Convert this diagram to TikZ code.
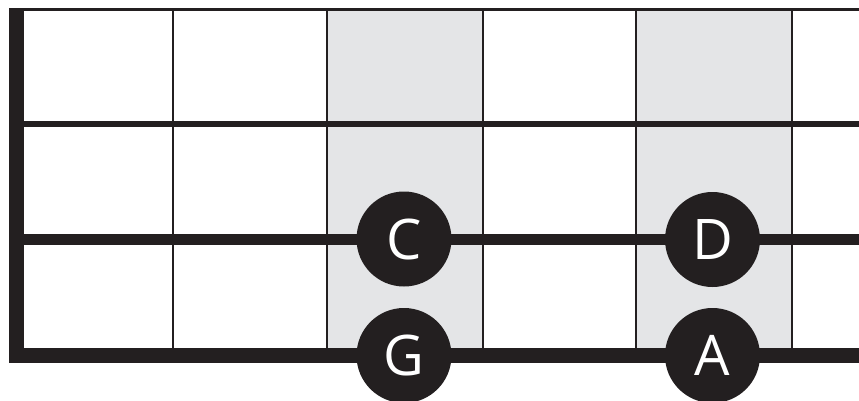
\documentclass[tikz,border=0pt]{standalone}
\usepackage{fontspec}
\setmainfont{Open Sans}
\definecolor{ink}{HTML}{231F20}
\definecolor{fretgray}{HTML}{E4E5E7}
\tikzset{
  fret/.style={draw=ink, line width=2pt},
  note/.style={circle, fill=ink, minimum size=95pt, inner sep=0pt, text=white, font=\fontsize{56}{56}\selectfont}
}
\begin{document}
\begin{tikzpicture}[x=1pt,y=-1pt]
\useasboundingbox (0,0) rectangle (859,401);
% shaded frets
\fill[fill=fretgray] (328,9.5) rectangle (481.5,355.5);
\fill[fill=fretgray] (637,9.5) rectangle (791,355.5);
% fret lines
\foreach \x in {172.5,327,482.5,636,792}
  \draw[fret] (\x,9.5) -- (\x,355.5);
% strings
\coordinate (s1a) at (9,9.5);   \coordinate (s1b) at (859,9.5);
\coordinate (s2a) at (20,124);  \coordinate (s2b) at (859,124);
\coordinate (s3a) at (20,239.5);\coordinate (s3b) at (859,239.5);
\coordinate (s4a) at (20,355.5);\coordinate (s4b) at (859,355.5);
\draw[ink, line width=3pt] (s1a) -- (s1b);
\draw[ink, line width=6pt] (s2a) -- (s2b);
\draw[ink, line width=11pt] (s3a) -- (s3b);
\draw[ink, line width=15pt] (s4a) -- (s4b);
% nut
\fill[ink] (9,8) rectangle (24,363);
% notes
\node[note] (C) at (404,239) {C};
\node[note] (G) at (404,355.5) {G};
\node[note] (D) at (712.5,239.5) {D};
\node[note] (A) at (712.5,355.5) {A};
\end{tikzpicture}
\end{document}
